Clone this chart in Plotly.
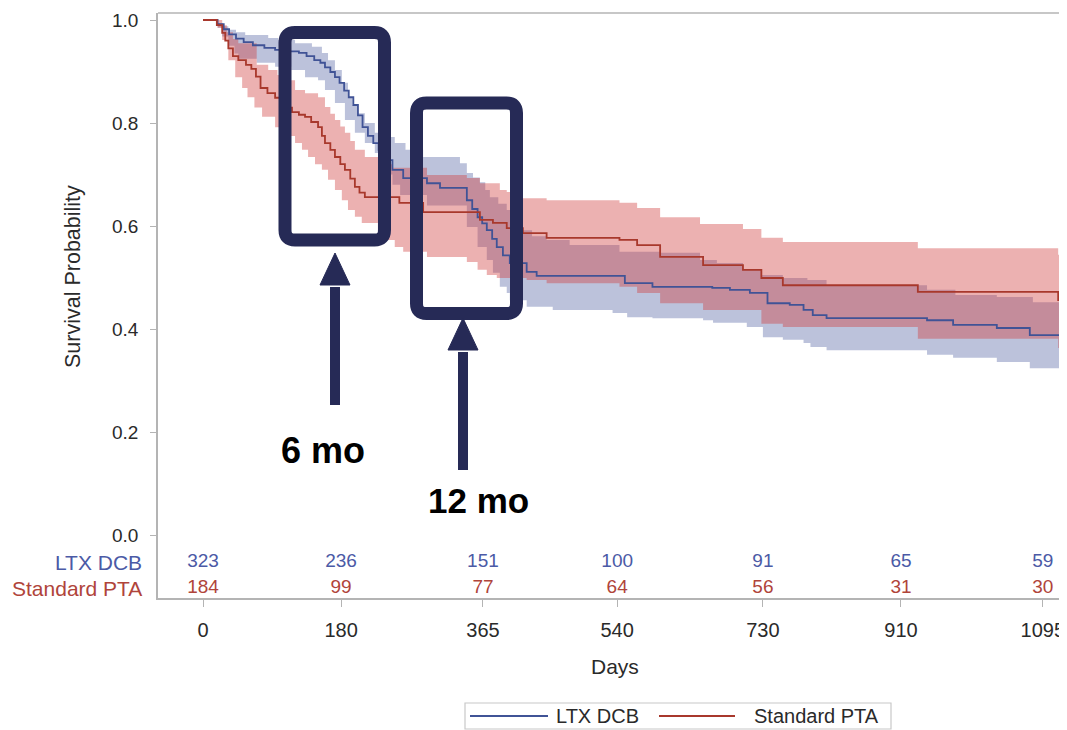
import plotly.graph_objects as go

# ---------------- data ----------------
LTX_DAYS = [0, 19, 27, 34, 43, 53, 65, 80, 94, 110, 125, 135, 145, 153, 159, 166, 172, 178, 184, 190,
            196, 202, 208, 215, 222, 229, 237, 247, 261, 292, 309, 344, 351, 358, 364, 370, 377, 383, 391, 400,
            422, 435, 550, 586, 664, 687, 713, 736, 765, 783, 795, 813, 944, 978, 1035, 1078]
LTX_SURV = [1.0, 0.992, 0.982, 0.972, 0.964, 0.957, 0.951, 0.946, 0.942, 0.939, 0.936, 0.930, 0.922, 0.917, 0.908, 0.899, 0.889, 0.878, 0.863, 0.850,
            0.835, 0.815, 0.792, 0.775, 0.761, 0.748, 0.728, 0.709, 0.693, 0.683, 0.674, 0.650, 0.633, 0.617, 0.605, 0.592, 0.575, 0.559, 0.543, 0.528,
            0.511, 0.503, 0.489, 0.482, 0.480, 0.476, 0.470, 0.450, 0.447, 0.437, 0.427, 0.421, 0.417, 0.408, 0.402, 0.388]

LTX_UP_DAYS = [0, 19, 26, 33, 43, 55, 85, 98, 120, 142, 155, 163, 172, 181, 189, 195, 202, 211, 224, 237,
               250, 264, 287, 335, 344, 352, 361, 368, 374, 385, 396, 407, 417, 429, 448, 478, 543, 596, 648, 670,
               704, 728, 756, 788, 813, 944, 981, 1035, 1082]
LTX_UPPER = [1.0, 0.994, 0.988, 0.981, 0.976, 0.971, 0.965, 0.961, 0.955, 0.948, 0.936, 0.922, 0.903, 0.878, 0.85, 0.835, 0.819, 0.8, 0.781, 0.773,
             0.761, 0.748, 0.734, 0.722, 0.703, 0.694, 0.685, 0.67, 0.656, 0.643, 0.631, 0.61, 0.592, 0.58, 0.573, 0.563, 0.55, 0.548, 0.534, 0.528,
             0.515, 0.505, 0.499, 0.495, 0.485, 0.476, 0.466, 0.462, 0.452]

LTX_LO_DAYS = [0, 19, 25, 33, 41, 46, 70, 94, 115, 133, 150, 159, 172, 185, 198, 211, 224, 231, 239, 247,
               257, 292, 344, 358, 370, 378, 387, 396, 400, 422, 456, 534, 553, 586, 652, 665, 709, 730, 756, 783,
               792, 813, 944, 978, 1035, 1078]
LTX_LOWER = [1.0, 0.985, 0.968, 0.95, 0.935, 0.925, 0.917, 0.909, 0.903, 0.889, 0.883, 0.864, 0.839, 0.806, 0.781, 0.761, 0.742, 0.72, 0.70, 0.68,
             0.66, 0.64, 0.598, 0.559, 0.534, 0.509, 0.482, 0.47, 0.456, 0.443, 0.437, 0.431, 0.423, 0.421, 0.417, 0.412, 0.404, 0.384, 0.379, 0.373,
             0.365, 0.359, 0.35, 0.344, 0.336, 0.324]

PTA_DAYS = [0, 18, 25, 29, 33, 39, 46, 56, 63, 69, 75, 84, 94, 102, 110, 116, 125, 133, 141, 150,
            155, 159, 166, 172, 179, 185, 192, 198, 204, 211, 256, 287, 361, 378, 396, 417, 448, 543, 566, 596,
            652, 704, 728, 756, 932, 1115]
PTA_SURV = [1.0, 0.99, 0.975, 0.96, 0.945, 0.93, 0.922, 0.913, 0.905, 0.89, 0.868, 0.858, 0.849, 0.84, 0.83, 0.821, 0.816, 0.812, 0.802, 0.792,
            0.775, 0.761, 0.748, 0.734, 0.72, 0.709, 0.692, 0.676, 0.665, 0.656, 0.645, 0.627, 0.612, 0.606, 0.596, 0.586, 0.577, 0.573, 0.563, 0.540,
            0.524, 0.515, 0.499, 0.485, 0.472, 0.456]

PTA_UP_DAYS = [0, 19, 25, 31, 39, 46, 70, 85, 97, 107, 120, 133, 150, 159, 166, 172, 179, 185, 192, 198,
               211, 233, 247, 292, 344, 361, 387, 396, 417, 448, 543, 566, 596, 648, 704, 728, 756, 932, 1115]
PTA_UPPER = [1.0, 1.0, 0.99, 0.976, 0.963, 0.955, 0.913, 0.903, 0.893, 0.883, 0.864, 0.858, 0.85, 0.831, 0.818, 0.806, 0.793, 0.781, 0.765, 0.748,
             0.734, 0.72, 0.713, 0.699, 0.693, 0.683, 0.67, 0.666, 0.654, 0.65, 0.645, 0.635, 0.617, 0.604, 0.594, 0.577, 0.569, 0.557, 0.544]

PTA_LO_DAYS = [0, 19, 25, 33, 42, 51, 58, 67, 77, 94, 107, 120, 129, 137, 146, 155, 163, 172, 181, 189,
               198, 207, 228, 237, 250, 261, 292, 344, 358, 370, 383, 422, 448, 543, 566, 596, 652, 728, 756, 932,
               1115]
PTA_LOWER = [1.0, 0.985, 0.961, 0.922, 0.889, 0.868, 0.85, 0.83, 0.812, 0.792, 0.775, 0.761, 0.748, 0.734, 0.72, 0.709, 0.69, 0.67, 0.65, 0.631,
             0.618, 0.606, 0.59, 0.573, 0.559, 0.55, 0.54, 0.53, 0.515, 0.505, 0.499, 0.495, 0.489, 0.482, 0.47, 0.45, 0.437, 0.41, 0.404, 0.381,
             0.363]

FOLLOW_UP_END = 1135

RISK_DAYS = [0, 180, 365, 540, 730, 910, 1095]
LTX_AT_RISK = [323, 236, 151, 100, 91, 65, 59]
PTA_AT_RISK = [184, 99, 77, 64, 56, 31, 30]
Y_TICKS = [0.0, 0.2, 0.4, 0.6, 0.8, 1.0]
Y_TICK_TEXT = ["0.0", "0.2", "0.4", "0.6", "0.8", "1.0"]
GROUPS = ["LTX DCB", "Standard PTA"]
MARK_LABELS = ["6 mo", "12 mo"]

# ---------------- style ----------------
BLUE = "#405396"
RED = "#a8382c"
BLUE_TXT = "#4b5aa6"
RED_TXT = "#b0443a"
BLUE_FILL = "rgba(68,86,154,0.36)"
RED_FILL = "rgba(207,60,60,0.40)"
NAVY = "#262a56"
FRAME = "#b4b4b4"
TXT = "#2a2a2a"
FONT = "Liberation Sans, Arial, sans-serif"

PAGE_W, PAGE_H = 1067, 730
OFF = 8                      # default body margin of the html page
L, R, T, B = 158, 1067, 13, 598   # plot area in page pixels
W, H = PAGE_W - OFF, PAGE_H - OFF
X_RANGE = [-58.7, 1126.5]
Y_RANGE = [-0.1223, 1.0136]


def fx(px):
    return (px - L) / (R - L)


def fy(py):
    return (B - py) / (B - T)


def ext(days, vals):
    return list(days) + [FOLLOW_UP_END], list(vals) + [vals[-1]]


fig = go.Figure()


def band(lo_d, lo_v, up_d, up_v, color):
    xd, yv = ext(lo_d, lo_v)
    fig.add_trace(go.Scatter(x=xd, y=yv, mode="lines", line=dict(width=0, shape="hv"),
                             hoverinfo="skip", showlegend=False))
    xd, yv = ext(up_d, up_v)
    fig.add_trace(go.Scatter(x=xd, y=yv, mode="lines", line=dict(width=0, shape="hv"),
                             fill="tonexty", fillcolor=color, hoverinfo="skip", showlegend=False))


band(LTX_LO_DAYS, LTX_LOWER, LTX_UP_DAYS, LTX_UPPER, BLUE_FILL)
band(PTA_LO_DAYS, PTA_LOWER, PTA_UP_DAYS, PTA_UPPER, RED_FILL)

xd, yv = ext(LTX_DAYS, LTX_SURV)
fig.add_trace(go.Scatter(x=xd, y=yv, mode="lines", line=dict(color=BLUE, width=1.8, shape="hv"),
                         name=GROUPS[0], showlegend=False))
xd, yv = ext(PTA_DAYS, PTA_SURV)
fig.add_trace(go.Scatter(x=xd, y=yv, mode="lines", line=dict(color=RED, width=1.8, shape="hv"),
                         name=GROUPS[1], showlegend=False))

# at-risk table inside the plot frame
fig.add_trace(go.Scatter(x=RISK_DAYS, y=[-0.0524] * len(RISK_DAYS), mode="text",
                         text=[str(v) for v in LTX_AT_RISK], cliponaxis=False,
                         textfont=dict(color=BLUE_TXT, size=19, family=FONT),
                         hoverinfo="skip", showlegend=False))
fig.add_trace(go.Scatter(x=RISK_DAYS, y=[-0.1029] * len(RISK_DAYS), mode="text",
                         text=[str(v) for v in PTA_AT_RISK], cliponaxis=False,
                         textfont=dict(color=RED_TXT, size=19, family=FONT),
                         hoverinfo="skip", showlegend=False))

shapes = []
annotations = []

# top frame line
shapes.append(dict(type="line", xref="paper", yref="paper", x0=0, x1=1, y0=1, y1=1,
                   line=dict(color=FRAME, width=1.5)))


def rrect(x0, y0, x1, y1, r):
    pts = [
        ("M", [(x0 + r, y0)]), ("L", [(x1 - r, y0)]), ("Q", [(x1, y0), (x1, y0 + r)]),
        ("L", [(x1, y1 - r)]), ("Q", [(x1, y1), (x1 - r, y1)]), ("L", [(x0 + r, y1)]),
        ("Q", [(x0, y1), (x0, y1 - r)]), ("L", [(x0, y0 + r)]), ("Q", [(x0, y0), (x0 + r, y0)]),
    ]
    s = ""
    for cmd, ps in pts:
        s += cmd + " " + " ".join(f"{fx(px):.5f},{fy(py):.5f}" for px, py in ps) + " "
    return s + "Z"


for (x0, y0, x1, y1) in [(285, 32.5, 384.5, 240), (416.5, 103, 516.5, 313.5)]:
    shapes.append(dict(type="path", xref="paper", yref="paper", path=rrect(x0, y0, x1, y1, 10),
                       line=dict(color=NAVY, width=13), layer="above"))

# arrows
for (ax, tip, base, bottom) in [(335, 253, 285, 405), (463, 318, 350, 470)]:
    shapes.append(dict(type="line", xref="paper", yref="paper", x0=fx(ax), x1=fx(ax),
                       y0=fy(bottom), y1=fy(base + 2), line=dict(color=NAVY, width=10), layer="above"))
    path = (f"M {fx(ax):.5f},{fy(tip):.5f} L {fx(ax + 15):.5f},{fy(base):.5f} "
            f"L {fx(ax - 15):.5f},{fy(base):.5f} Z")
    shapes.append(dict(type="path", xref="paper", yref="paper", path=path,
                       fillcolor=NAVY, line=dict(color=NAVY, width=1), layer="above"))

annotations.append(dict(x=fx(323), y=fy(450), xref="paper", yref="paper", text="<b>" + MARK_LABELS[0] + "</b>",
                        showarrow=False, font=dict(size=36, color="#000000", family=FONT),
                        xanchor="center", yanchor="middle"))
annotations.append(dict(x=fx(478), y=fy(500), xref="paper", yref="paper", text="<b>" + MARK_LABELS[1] + "</b>",
                        showarrow=False, font=dict(size=35, color="#000000", family=FONT),
                        xanchor="center", yanchor="middle"))

# at-risk row labels
annotations.append(dict(x=fx(144), y=fy(562), xref="paper", yref="paper", text=GROUPS[0], showarrow=False,
                        font=dict(size=21, color=BLUE_TXT, family=FONT), xanchor="right", yanchor="middle"))
annotations.append(dict(x=fx(144), y=fy(588), xref="paper", yref="paper", text=GROUPS[1], showarrow=False,
                        font=dict(size=21, color=RED_TXT, family=FONT), xanchor="right", yanchor="middle"))

# axis titles
annotations.append(dict(x=fx(73), y=fy(277), xref="paper", yref="paper", text="Survival Probability",
                        showarrow=False, textangle=-90, font=dict(size=21.5, color=TXT, family=FONT),
                        xanchor="center", yanchor="middle"))
annotations.append(dict(x=fx(615), y=fy(666), xref="paper", yref="paper", text="Days",
                        showarrow=False, font=dict(size=21, color=TXT, family=FONT),
                        xanchor="center", yanchor="middle"))

# custom legend
shapes.append(dict(type="rect", xref="paper", yref="paper", x0=fx(465), x1=fx(891), y0=fy(703), y1=fy(729),
                   line=dict(color="#c8c8c8", width=1.2), fillcolor="rgba(0,0,0,0)"))
shapes.append(dict(type="line", xref="paper", yref="paper", x0=fx(470), x1=fx(548), y0=fy(716), y1=fy(716),
                   line=dict(color=BLUE, width=1.8)))
shapes.append(dict(type="line", xref="paper", yref="paper", x0=fx(659), x1=fx(735), y0=fy(716), y1=fy(716),
                   line=dict(color=RED, width=1.8)))
annotations.append(dict(x=fx(554), y=fy(716), xref="paper", yref="paper", text=GROUPS[0], showarrow=False,
                        font=dict(size=20, color=TXT, family=FONT), xanchor="left", yanchor="middle"))
annotations.append(dict(x=fx(752), y=fy(716), xref="paper", yref="paper", text=GROUPS[1], showarrow=False,
                        font=dict(size=20, color=TXT, family=FONT), xanchor="left", yanchor="middle"))

fig.update_layout(
    width=W, height=H,
    margin=dict(l=L - OFF, r=PAGE_W - R, t=T - OFF, b=PAGE_H - B, autoexpand=False),
    paper_bgcolor="white", plot_bgcolor="white",
    font=dict(family=FONT, color=TXT),
    shapes=shapes, annotations=annotations,
    showlegend=False,
    xaxis=dict(range=X_RANGE, tickvals=RISK_DAYS, ticktext=[str(d) for d in RISK_DAYS],
               showgrid=False, zeroline=False, showline=True, linecolor=FRAME, linewidth=1.5,
               ticks="outside", ticklen=7, tickcolor=FRAME, tickwidth=1.2,
               tickfont=dict(size=20, color=TXT, family=FONT), ticklabelstandoff=6),
    yaxis=dict(range=Y_RANGE, tickvals=Y_TICKS, ticktext=Y_TICK_TEXT,
               showgrid=False, zeroline=False, showline=True, linecolor=FRAME, linewidth=1.5,
               ticks="outside", ticklen=6, tickcolor=FRAME, tickwidth=1.2,
               tickfont=dict(size=19, color=TXT, family=FONT), ticklabelstandoff=8),
)

fig.write_html("out.html")
